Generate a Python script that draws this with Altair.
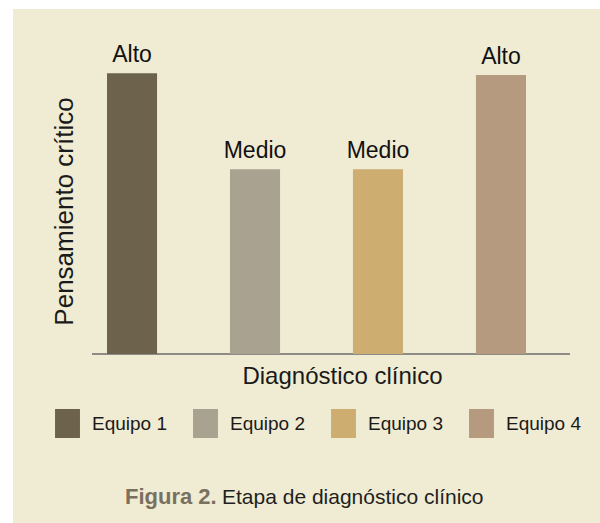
import altair as alt
import pandas as pd

# Values
equipos = ["Equipo 1", "Equipo 2", "Equipo 3", "Equipo 4"]
niveles = ["Alto", "Medio", "Medio", "Alto"]
puntajes = [3.04, 2.0, 2.0, 3.02]
colores = ["#6D634D", "#AAA291", "#CEAD70", "#B59A80"]

FONT = "Liberation Sans"
CREAM = "#F0EBD3"

df = pd.DataFrame({"equipo": equipos, "nivel": niveles, "puntaje": puntajes})
one = pd.DataFrame({"k": [0]})

W, H = 419, 314

x_enc = alt.X(
    "equipo:N",
    sort=equipos,
    scale=alt.Scale(paddingInner=0.593, paddingOuter=0),
    axis=alt.Axis(
        labels=False, ticks=False, domain=False, grid=False, zindex=2,
        title="Diagnóstico clínico", titleFont=FONT, titleFontSize=24,
        titleFontWeight="normal", titleColor="#1a1a1a",
        titleX=235, titleY=29, titleBaseline="alphabetic", titleAlign="center",
    ),
)
y_enc = alt.Y(
    "puntaje:Q",
    scale=alt.Scale(domain=[0, 3.4], nice=False, zero=True),
    axis=alt.Axis(
        labels=False, ticks=False, domain=False, grid=False, zindex=2,
        title="Pensamiento crítico", titleFont=FONT, titleFontSize=26,
        titleFontWeight="normal", titleColor="#1a1a1a",
        titleAngle=-90, titleX=-35, titleY=171, titleBaseline="alphabetic",
        titleAlign="center",
    ),
)

# Cream panel behind everything
panel = alt.Chart(one).mark_rect(color=CREAM).encode(
    x=alt.value(-94), x2=alt.value(493), y=alt.value(-31), y2=alt.value(483)
)

# Baseline under the bars
baseline = alt.Chart(one).mark_rule(color="#6b6b6b", strokeWidth=1.5).encode(
    x=alt.value(-15), x2=alt.value(463), y=alt.value(H)
)

rect_path = "M-0.86,-1L0.86,-1L0.86,1L-0.86,1Z"

bars = alt.Chart(df).mark_bar().encode(
    x=x_enc,
    y=y_enc,
    color=alt.Color(
        "equipo:N",
        scale=alt.Scale(domain=equipos, range=colores),
        legend=alt.Legend(
            title=None, orient="none", legendX=-54, legendY=369,
            direction="horizontal", columns=4, padding=0, zindex=2,
            symbolType=rect_path, symbolSize=841, symbolStrokeWidth=0,
            symbolOpacity=1, labelFont=FONT, labelFontSize=19,
            labelColor="#1a1a1a", labelOffset=10, columnPadding=23,
        ),
    ),
)

labels = alt.Chart(df).mark_text(
    font=FONT, fontSize=23, color="#111111", baseline="alphabetic", dy=-11
).encode(x=alt.X("equipo:N", sort=equipos), y="puntaje:Q", text="nivel:N")

cap_bold = alt.Chart(one).mark_text(
    font=FONT, fontSize=22, fontWeight="bold", color="#7A7060",
    align="left", baseline="alphabetic",
).encode(x=alt.value(18), y=alt.value(464), text=alt.value("Figura 2."))

cap_rest = alt.Chart(one).mark_text(
    font=FONT, fontSize=21, color="#1f1f1f", align="left", baseline="alphabetic",
).encode(x=alt.value(115), y=alt.value(464), text=alt.value("Etapa de diagnóstico clínico"))

chart = (
    alt.layer(panel, baseline, bars, labels, cap_bold, cap_rest)
    .properties(
        width=W, height=H,
        autosize=alt.AutoSizeParams(type="none"),
        padding={"left": 107, "top": 40, "right": 74, "bottom": 169},
        background="white",
    )
    .configure_view(stroke=None)
)

chart.save("out.html", embed_options={"renderer": "svg", "actions": False})
